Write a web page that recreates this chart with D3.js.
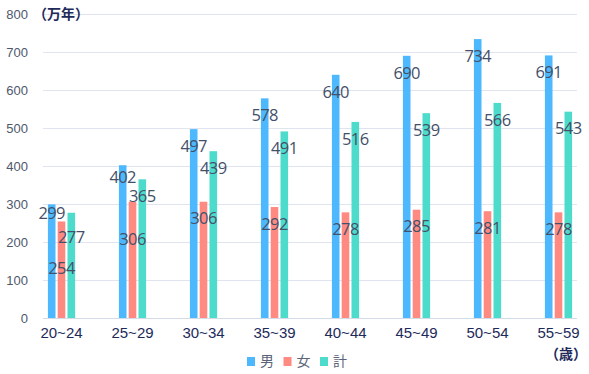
<!DOCTYPE html>
<html>
<head>
<meta charset="utf-8">
<script src="https://cdn.jsdelivr.net/npm/d3@7"></script>
<style>
  body { margin: 0; background: #fff; }
  svg { font-family: "Open Sans", "Noto Sans CJK JP", sans-serif; }
  .grid line { stroke: #dfe4ee; }
  .y.axis text { fill: #4e586c; font-size: 13px; }
  .x.axis text { fill: #1e2a5a; font-size: 15px; }
  .bar-text { fill: #445069; font-size: 16.5px; letter-spacing: -0.6px; }
  .unit { fill: #1e2a5a; font-size: 14px; font-weight: bold; }
  .legend text { fill: #5b6477; font-size: 14px; }
</style>
</head>
<body>
<div id="bar-chart"></div>
<script>
(function() {
  const ageGroups = ["20~24", "25~29", "30~34", "35~39", "40~44", "45~49", "50~54", "55~59"];
  const seriesNames = ["男", "女", "計"];
  const male = [299, 402, 497, 578, 640, 690, 734, 691];
  const female = [254, 306, 306, 292, 278, 285, 281, 278];
  const total = [277, 365, 439, 491, 516, 539, 566, 543];
  const yTicks = [0, 100, 200, 300, 400, 500, 600, 700, 800];

  // label offsets below bar top (px), a few shifted to avoid overlap
  const labelShift = {
    "男|20~24": 9, "女|20~24": 47, "計|20~24": 24,
    "男|25~29": 12, "女|25~29": 38
  };

  const width = 589, height = 374;
  const left = 43, right = 577, top = 14, bottom = 318;

  const svg = d3.select('#bar-chart')
    .append('svg')
      .attr('width', width)
      .attr('height', height);

  const color = d3.scaleOrdinal()
    .domain(seriesNames)
    .range(["#4db8fd", "#ff8a82", "#4ddccb"]);

  const x0 = d3.scaleBand().domain(ageGroups).range([26, 594]);
  const x1 = d3.scaleBand().domain(seriesNames).range([0, 27.2]).paddingInner(0.224);
  const groupOffset = (x0.bandwidth() - 27.2) / 2;
  const y = d3.scaleLinear().domain([0, 800]).range([bottom, top]);

  // grid
  svg.append("g").attr("class", "grid")
    .selectAll("line")
    .data(yTicks)
    .enter().append("line")
      .attr("x1", left).attr("x2", right)
      .attr("y1", d => y(d) + 0.5).attr("y2", d => y(d) + 0.5);

  const yAxis = svg.append("g")
    .attr("class", "y axis")
    .attr("transform", `translate(${left - 15}, 0)`)
    .call(d3.axisLeft(y).tickValues(yTicks).tickSize(0).tickPadding(0));
  yAxis.select(".domain").remove();

  const xAxis = svg.append("g")
    .attr("class", "x axis")
    .attr("transform", `translate(0, ${bottom})`)
    .call(d3.axisBottom(x0).tickSize(0).tickPadding(9));
  xAxis.select(".domain").remove();

  svg.append("line")
    .attr("x1", left).attr("x2", right)
    .attr("y1", bottom + 0.5).attr("y2", bottom + 0.5)
    .attr("stroke", "#d3dbe8");

  const groupData = ageGroups.map((g, i) => ({
    key: g,
    values: [
      { series: "男", total: male[i] },
      { series: "女", total: female[i] },
      { series: "計", total: total[i] }
    ]
  }));

  const groups = svg.selectAll("g.group")
    .data(groupData)
    .enter().append("g")
      .attr("class", "group")
      .attr("transform", d => `translate(${x0(d.key) + groupOffset}, 0)`);

  groups.selectAll("rect")
    .data(d => d.values)
    .enter().append("rect")
      .attr("x", d => x1(d.series))
      .attr("width", x1.bandwidth())
      .attr("y", d => y(d.total))
      .attr("height", d => y(0) - y(d.total))
      .style("fill", d => color(d.series));

  groups.selectAll("text")
    .data(d => d.values.map(v => Object.assign({ key: d.key }, v)))
    .enter().append("text")
      .attr("class", "bar-text")
      .attr("text-anchor", "middle")
      .attr("x", d => x1(d.series) + x1.bandwidth() / 2)
      .attr("y", d => y(d.total) + (labelShift[d.series + "|" + d.key] || 17))
      .attr("dy", "0.35em")
      .text(d => d.total);

  svg.append("text")
    .attr("class", "unit")
    .attr("x", 33).attr("y", 19)
    .text("（万年）");

  svg.append("text")
    .attr("class", "unit")
    .attr("x", 545).attr("y", 359)
    .text("（歳）");

  const legend = svg.selectAll(".legend")
    .data(seriesNames)
    .enter().append("g")
      .attr("class", "legend")
      .attr("transform", (d, i) => `translate(${247 + i * 36.5}, 357)`);

  legend.append("rect")
    .attr("width", 8)
    .attr("height", 9)
    .style("fill", d => color(d));

  legend.append("text")
    .attr("x", 13)
    .attr("y", 4.5)
    .attr("dy", "0.35em")
    .text(d => d);
})();
</script>
</body>
</html>
